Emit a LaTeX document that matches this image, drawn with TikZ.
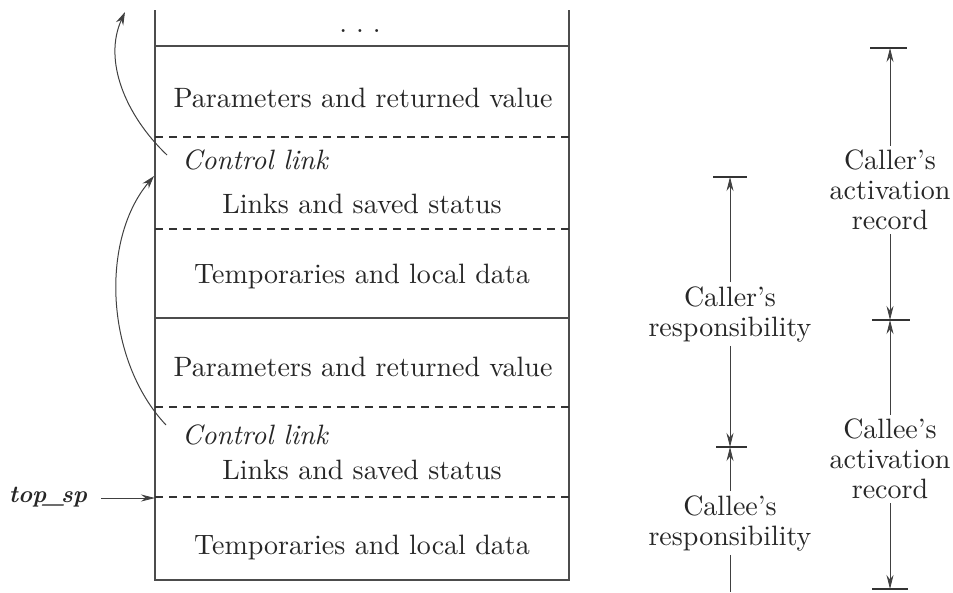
\documentclass[tikz,border=0pt]{standalone}
\usepackage{fontspec}
\setmainfont{lmroman10-regular.otf}[ItalicFont=lmroman10-italic.otf, BoldFont=lmroman10-bold.otf, BoldItalicFont=lmroman10-bolditalic.otf]
\usetikzlibrary{arrows.meta}
\begin{document}
\begin{tikzpicture}[x=1pt,y=-1pt,
  txt/.style={font=\fontsize{28}{30}\selectfont, text=black!85, inner sep=2pt},
  dim/.style={txt, align=center, inner sep=4pt},
  boxline/.style={line width=1.4pt, draw=black!70},
  dashline/.style={line width=1.4pt, draw=black!80, dash pattern=on 8pt off 6pt},
  tip/.style={-{Stealth[length=14pt,width=7pt]}},
  dimline/.style={line width=0.8pt, draw=black!75},
  tickline/.style={line width=1.1pt, draw=black!80},
  curvearrow/.style={line width=1pt, draw=black!75, -{Stealth[length=13pt,width=8pt]}}]
\useasboundingbox (0,0) rectangle (953,592);
% stack outline
\draw[boxline] (155,10) -- (155,580) -- (569,580) -- (569,10);
\draw[boxline] (155,46) -- (569,46);
\draw[boxline] (155,318) -- (569,318);
\foreach \y in {137,229,407,497} \draw[dashline] (155,\y) -- (569,\y);
% stack texts
\node[txt] (dots) at (360,31) {.\hspace{9pt}.\hspace{9pt}.};
\node[txt] (par1) at (363,98) {Parameters and returned value};
\node[txt, anchor=west] (cl1) at (180,160) {\textit{Control link}};
\node[txt] (ls1) at (362,204) {Links and saved status};
\node[txt] (tl1) at (362,276) {Temporaries and local data};
\node[txt] (par2) at (363,367) {Parameters and returned value};
\node[txt, anchor=west] (cl2) at (180,435) {\textit{Control link}};
\node[txt] (ls2) at (362,470) {Links and saved status};
\node[txt] (tl2) at (362,547) {Temporaries and local data};
% top_sp
\node[txt, font=\fontsize{24}{26}\selectfont] (sp) at (48,497) {\textbf{\textit{top\kern-3pt\_\kern-3pt sp}}};
\coordinate (spend) at (155,498);
\draw[dimline, tip, shorten <=12pt] (sp.east |- spend) -- (spend);
% control link arrows
\coordinate (c1s) at (167,155);
\coordinate (c1e) at (125,12);
\draw[curvearrow] (c1s) .. controls (125,115) and (103,60) .. (c1e);
\coordinate (c2s) at (166,425);
\coordinate (c2e) at (154,176);
\draw[curvearrow] (c2s) .. controls (105,360) and (100,240) .. (c2e);
% left dimension
\coordinate (t1) at (730,177);
\coordinate (m1) at (730,447);
\coordinate (b1) at (730,592);
\draw[tickline] (713,177) -- (747,177);
\draw[tickline] (716,447) -- (747,447);
\node[dim] (crr) at (730,314) {Caller's\\responsibility};
\node[dim] (cer) at (730,523) {Callee's\\responsibility};
\draw[dimline, tip] (crr) -- (t1);
\draw[dimline, tip] (crr) -- (m1);
\draw[dimline, tip] (cer) -- (m1);
\draw[dimline] (cer) -- (b1);
% right dimension
\coordinate (t2) at (890,48);
\coordinate (m2) at (890,320);
\coordinate (b2) at (890,589);
\draw[tickline] (870,48) -- (907,48);
\draw[tickline] (872,320) -- (910,320);
\draw[tickline] (872,589) -- (908,589);
\node[dim] (car) at (890,190) {Caller's\\activation\\record};
\node[dim] (cear) at (890,459) {Callee's\\activation\\record};
\draw[dimline, tip] (car) -- (t2);
\draw[dimline, tip] (car) -- (m2);
\draw[dimline, tip] (cear) -- (m2);
\draw[dimline, tip] (cear) -- (b2);
\end{tikzpicture}
\end{document}
